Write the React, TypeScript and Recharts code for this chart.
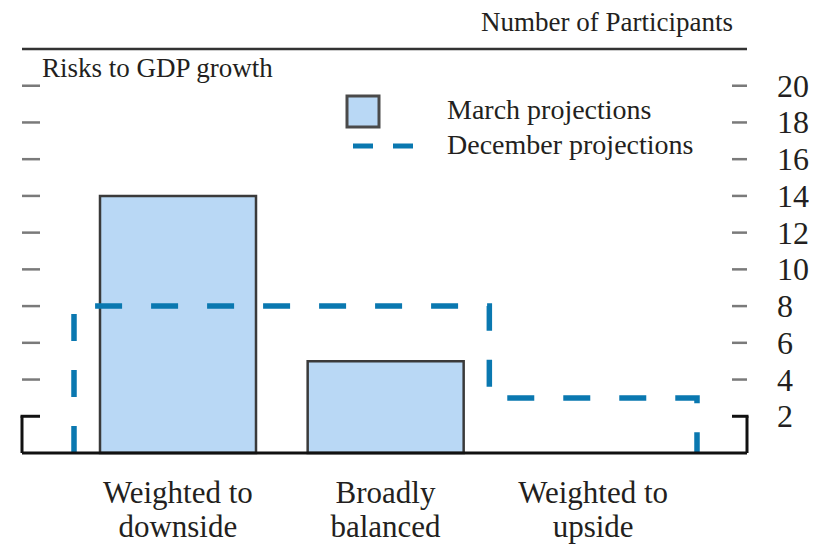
import React from "react";
import {
  ComposedChart,
  Bar,
  Line,
  XAxis,
  YAxis,
  ReferenceLine,
  Legend,
} from "recharts";

// ---- data ----
const categories = ["Weighted to downside", "Broadly balanced", "Weighted to upside"];
const categoryLabelLines = [
  ["Weighted to", "downside"],
  ["Broadly", "balanced"],
  ["Weighted to", "upside"],
];
const marchValues = [14, 5, 0];
const decemberValues = [8, 8, 3];
const yTicks = [2, 4, 6, 8, 10, 12, 14, 16, 18, 20];
const yMax = 22;

const barData = categories.map((c, i) => ({ cat: c, march: marchValues[i] }));

// step outline of December projections over category band edges
const stepData: { x: number; dec: number }[] = [{ x: 0, dec: 0 }];
decemberValues.forEach((v, i) => {
  stepData.push({ x: i, dec: v });
  stepData.push({ x: i + 1, dec: v });
});
stepData.push({ x: decemberValues.length, dec: 0 });

// ---- layout / style ----
const CHART_W = 820;
const CHART_H = 549;
const MARGIN_TOP = 49;
const MARGIN_LEFT = 22;
const RIGHT_AXIS_W = 73;
const XAXIS_H = 96;
const PLOT_H = CHART_H - MARGIN_TOP - XAXIS_H;
const PLOT_W = CHART_W - MARGIN_LEFT - RIGHT_AXIS_W;
const PX_PER_UNIT = PLOT_H / yMax;

const FONT = '"Liberation Serif", "Times New Roman", serif';
const TEXT = "#231f20";
const BAR_FILL = "#b9d8f5";
const BAR_STROKE = "#3a3a3a";
const DEC_COLOR = "#0a78b0";
const PAD = { left: 52, right: 50 };

// draws the tick marks on both plot edges, the base brackets and the label
const EdgeTick = (props: any) => {
  const { x, y, payload } = props;
  const base = payload.value === yTicks[0];
  const lx = x - PLOT_W;
  const col = base ? "#111" : "#7a7a7a";
  const sw = base ? 3 : 2.5;
  const drop = y + payload.value * PX_PER_UNIT;
  return (
    <g>
      <line x1={lx - (base ? 1.5 : 0)} x2={lx + 18} y1={y} y2={y} stroke={col} strokeWidth={sw} />
      <line x1={x - 15} x2={x + (base ? 1.5 : 0)} y1={y} y2={y} stroke={col} strokeWidth={sw} />
      {base && <line x1={lx} x2={lx} y1={y} y2={drop} stroke="#111" strokeWidth={3} />}
      {base && <line x1={x} x2={x} y1={y} y2={drop} stroke="#111" strokeWidth={3} />}
      <text x={x + 30} y={y} dy={11} textAnchor="start" fontFamily={FONT} fontSize={32} fill={TEXT}>
        {payload.value}
      </text>
    </g>
  );
};

const CatTick = (props: any) => {
  const { x, y, index } = props;
  const lines = categoryLabelLines[index] || [];
  return (
    <text textAnchor="middle" fontFamily={FONT} fontSize={31} fill={TEXT}>
      {lines.map((l, i) => (
        <tspan key={i} x={x} y={y + 50 + i * 34}>
          {l}
        </tspan>
      ))}
    </text>
  );
};

const LegendContent = () => (
  <svg width={380} height={70} style={{ display: "block" }}>
    <rect x={7} y={6} width={32} height={31} fill={BAR_FILL} stroke="#4a4a4a" strokeWidth={3} />
    <text x={107} y={29} fontFamily={FONT} fontSize={28} fill={TEXT}>
      March projections
    </text>
    <line x1={13} x2={73} y1={56} y2={56} stroke={DEC_COLOR} strokeWidth={5} strokeDasharray="20 20" />
    <text x={107} y={64} fontFamily={FONT} fontSize={28} fill={TEXT}>
      December projections
    </text>
  </svg>
);

export default function App() {
  return (
    <div style={{ position: "absolute", left: 0, top: 0, width: CHART_W, height: CHART_H, background: "#fff" }}>
      <ComposedChart
        width={CHART_W}
        height={CHART_H}
        data={barData}
        margin={{ top: MARGIN_TOP, right: 0, bottom: 0, left: MARGIN_LEFT }}
      >
        <XAxis
          dataKey="cat"
          type="category"
          padding={PAD}
          axisLine={{ stroke: "#111", strokeWidth: 3 }}
          tickLine={false}
          tickSize={0}
          tickMargin={0}
          height={XAXIS_H}
          interval={0}
          tick={<CatTick />}
        />
        <XAxis xAxisId="step" dataKey="x" type="number" domain={[0, 3]} padding={PAD} hide />
        <YAxis
          yAxisId="right"
          orientation="right"
          width={RIGHT_AXIS_W}
          domain={[0, yMax]}
          ticks={yTicks}
          axisLine={false}
          tickLine={false}
          tickSize={0}
          tickMargin={0}
          tick={<EdgeTick />}
          interval={0}
        />
        <ReferenceLine yAxisId="right" y={yMax} stroke="#333" strokeWidth={2.5} />
        <Bar
          dataKey="march"
          yAxisId="right"
          barSize={156}
          fill={BAR_FILL}
          stroke={BAR_STROKE}
          strokeWidth={2.5}
          isAnimationActive={false}
        />
        <Line
          data={stepData}
          dataKey="dec"
          xAxisId="step"
          yAxisId="right"
          type="linear"
          stroke={DEC_COLOR}
          strokeWidth={5.5}
          strokeDasharray="27 29"
          dot={false}
          activeDot={false}
          isAnimationActive={false}
        />
        <Legend
          layout="vertical"
          align="center"
          verticalAlign="middle"
          wrapperStyle={{ position: "absolute", top: 90, left: 340, width: 380 }}
          content={<LegendContent />}
        />
      </ComposedChart>
      <svg
        width={CHART_W}
        height={CHART_H}
        style={{ position: "absolute", left: 0, top: 0, pointerEvents: "none" }}
      >
        <text x={733} y={31} textAnchor="end" fontFamily={FONT} fontSize={27} fill={TEXT}>
          Number of Participants
        </text>
        <text x={42} y={77} textAnchor="start" fontFamily={FONT} fontSize={27} fill={TEXT}>
          Risks to GDP growth
        </text>
      </svg>
    </div>
  );
}
